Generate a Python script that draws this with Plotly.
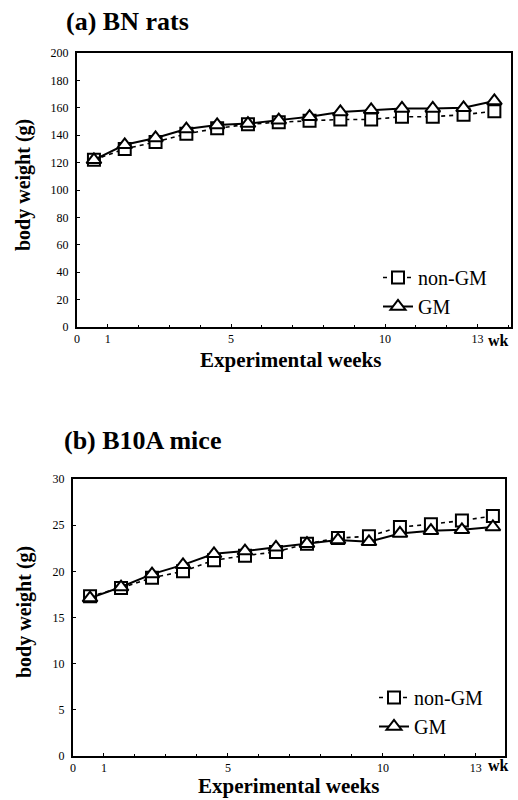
import plotly.graph_objects as go

# ---------------- data ----------------
weeks = list(range(14))  # experimental weeks 0..13

rats_nonGM = [122, 130, 135, 141, 145, 148, 149.5, 150.5, 151.5, 151.5, 153.5, 153.5, 155, 157.5]
rats_GM = [122, 133, 138, 144.5, 147.5, 148.5, 151, 153.5, 157, 158.5, 159.5, 159.5, 160, 165]

mice_nonGM = [17.3, 18.2, 19.3, 20.0, 21.2, 21.7, 22.1, 23.0, 23.6, 23.8, 24.8, 25.1, 25.5, 26.0]
mice_GM = [17.1, 18.3, 19.7, 20.7, 21.9, 22.2, 22.6, 23.0, 23.4, 23.2, 24.1, 24.4, 24.5, 24.8]

x_tickvals = [0, 1, 5, 10, 13]
x_ticktext = ["0", "1", "5", "10", "13"]
rat_yticks = list(range(0, 201, 20))
mouse_yticks = list(range(0, 31, 5))

series_names = ["non-GM", "GM"]
panel_titles = ["(a) BN rats", "(b) B10A mice"]
y_title = "body weight (g)"
x_title = "Experimental weeks"

# ---------------- style ----------------
W, H = 518, 800
SERIF = "Liberation Serif, Times New Roman, serif"
OFFSET = 0.55  # points sit between week ticks (category-style axis)

def px_x(v):
    return v / W

def px_y(v):
    return 1 - v / H

fig = go.Figure()

def add_pair(nonGM, GM, xa, ya, legend):
    xs = [w + OFFSET for w in weeks]
    fig.add_trace(go.Scatter(
        x=xs, y=nonGM, name=series_names[0], mode="lines+markers",
        xaxis=xa, yaxis=ya, legend=legend,
        line=dict(color="black", width=1.6, dash="4px,4px"),
        marker=dict(symbol="square", size=12, color="white",
                    line=dict(color="black", width=2)),
    ))
    fig.add_trace(go.Scatter(
        x=xs, y=GM, name=series_names[1], mode="lines+markers",
        xaxis=xa, yaxis=ya, legend=legend,
        line=dict(color="black", width=2),
        marker=dict(symbol="triangle-up", size=13, color="white",
                    line=dict(color="black", width=2)),
    ))

add_pair(rats_nonGM, rats_GM, "x", "y", "legend")
add_pair(mice_nonGM, mice_GM, "x2", "y2", "legend2")

common_x = dict(
    tickvals=x_tickvals, ticktext=x_ticktext, ticks="inside", ticklen=3,
    tickcolor="black", showline=True, linecolor="black", linewidth=2,
    mirror=True, showgrid=False, zeroline=False, automargin=False,
    tickfont=dict(family=SERIF, size=12, color="black"),
    minor=dict(dtick=1, tick0=0, ticks="inside", ticklen=2, tickcolor="black", showgrid=False),
)
common_y = dict(
    ticks="inside", ticklen=3, tickcolor="black",
    showline=True, linecolor="black", linewidth=2, mirror=True,
    showgrid=False, zeroline=False, automargin=False, ticklabelstandoff=4,
    tickfont=dict(family=SERIF, size=12, color="black"),
)

# panel (a) box: x 77-511, y 53-327 ; panel (b) box: x 73-505, y 479-756
fig.update_layout(
    width=W, height=H,
    margin=dict(l=0, r=0, t=0, b=0, autoexpand=False),
    paper_bgcolor="white", plot_bgcolor="white",
    xaxis=dict(domain=[px_x(77), px_x(511)], range=[0, 14.09], anchor="y", **common_x),
    yaxis=dict(domain=[px_y(327), px_y(53)], range=[0, 200], tickvals=rat_yticks,
               anchor="x", **common_y),
    xaxis2=dict(domain=[px_x(73), px_x(505)], range=[0, 13.94], anchor="y2", **common_x),
    yaxis2=dict(domain=[px_y(756), px_y(479)], range=[0, 30], tickvals=mouse_yticks,
                anchor="x2", **common_y),
    legend=dict(x=px_x(378), y=px_y(258), xanchor="left", yanchor="top",
                bgcolor="rgba(0,0,0,0)", font=dict(family=SERIF, size=20, color="black"),
                tracegroupgap=0, itemwidth=30),
    legend2=dict(x=px_x(374), y=px_y(678), xanchor="left", yanchor="top",
                 bgcolor="rgba(0,0,0,0)", font=dict(family=SERIF, size=20, color="black"),
                 tracegroupgap=0, itemwidth=30),
    showlegend=True,
)

ann = []
# panel titles
ann.append(dict(text="<b>" + panel_titles[0] + "</b>", x=px_x(64), y=px_y(22),
                xanchor="left", yanchor="middle", font=dict(size=26)))
ann.append(dict(text="<b>" + panel_titles[1] + "</b>", x=px_x(62), y=px_y(440),
                xanchor="left", yanchor="middle", font=dict(size=26)))
# y titles
ann.append(dict(text="<b>" + y_title + "</b>", x=px_x(24), y=px_y(185), textangle=-90,
                xanchor="center", yanchor="middle", font=dict(size=20)))
ann.append(dict(text="<b>" + y_title + "</b>", x=px_x(24), y=px_y(612), textangle=-90,
                xanchor="center", yanchor="middle", font=dict(size=20)))
# x titles
ann.append(dict(text="<b>" + x_title + "</b>", x=px_x(290), y=px_y(360),
                xanchor="center", yanchor="middle", font=dict(size=21)))
ann.append(dict(text="<b>" + x_title + "</b>", x=px_x(288), y=px_y(786),
                xanchor="center", yanchor="middle", font=dict(size=21)))
# "wk" unit labels
ann.append(dict(text="<b>wk</b>", x=px_x(498), y=px_y(340),
                xanchor="center", yanchor="middle", font=dict(size=16)))
ann.append(dict(text="<b>wk</b>", x=px_x(498), y=px_y(765),
                xanchor="center", yanchor="middle", font=dict(size=16)))

for a in ann:
    a.update(xref="paper", yref="paper", showarrow=False)
    a["font"].update(family=SERIF, color="black")
fig.update_layout(annotations=ann)

# remove the browser's default 8px body margin so the figure sits at the page origin
fig.write_html("out.html", config={"displayModeBar": False},
               post_script="document.body.style.margin='0';")
